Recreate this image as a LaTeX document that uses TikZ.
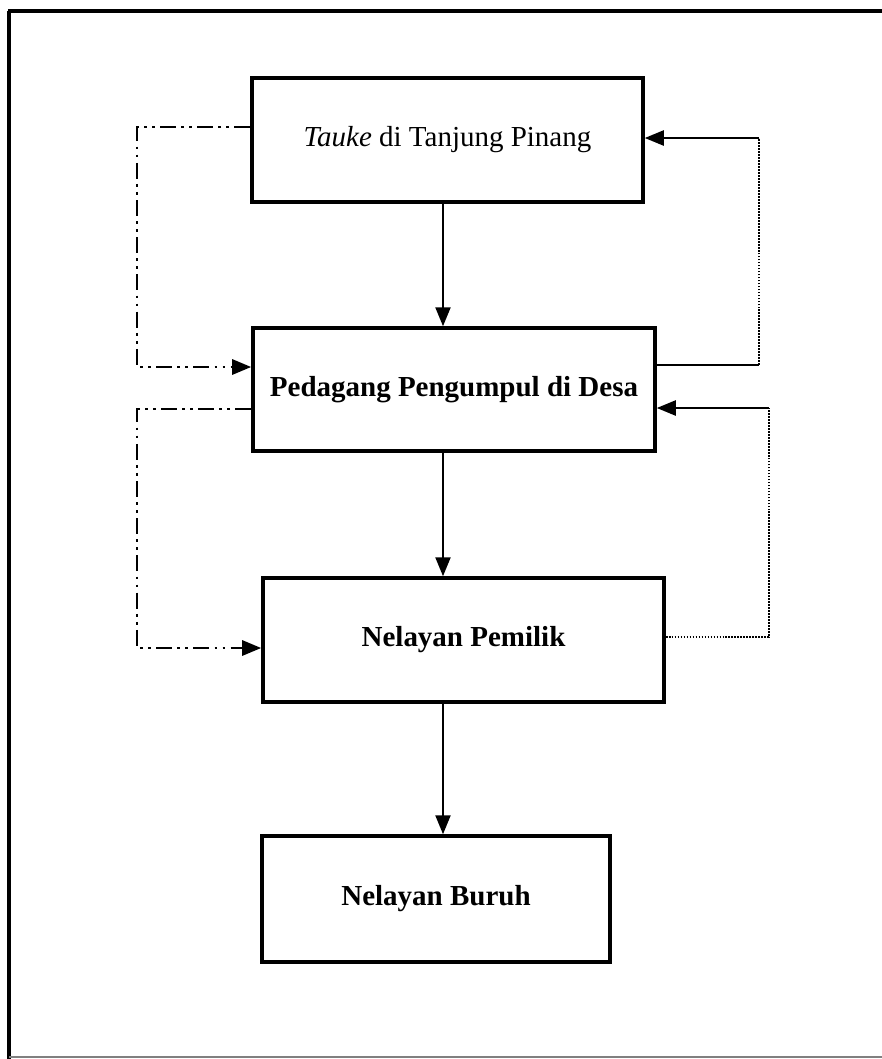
\documentclass[tikz,border=0pt]{standalone}
\usepackage{fontspec}
\setmainfont{Liberation Serif}
\usetikzlibrary{arrows.meta}
\begin{document}
\begin{tikzpicture}[x=0.02cm,y=-0.02cm,
  box/.style={draw, line width=2pt, inner sep=0pt, font=\fontsize{16.5}{19}\selectfont},
  tip/.style={-{Triangle[length=0.38cm,width=0.3cm]}},
  arr/.style={line width=1.3pt, tip},
  solidln/.style={line width=1.2pt},
  dashdotln/.style={line width=1.6pt, dash pattern=on 9pt off 3pt on 1.6pt off 3pt on 1.6pt off 3pt},
  dotln/.style={line width=1.3pt, dash pattern=on 1pt off 0.7pt}]
\useasboundingbox (0,0) rectangle (882,1059);
% frame
\draw[line width=2.4pt] (8,11) -- (882,11);
\draw[line width=2pt] (9,11) -- (9,1059);
\draw[line width=0.6pt, gray] (9,1057) -- (882,1057);
% boxes
\node[box, minimum width=391*0.02cm, minimum height=124*0.02cm] (b1) at (447.5,140) {\textit{Tauke} di Tanjung Pinang};
\node[box, minimum width=402*0.02cm, minimum height=123*0.02cm] (b2) at (454,389.5) {\textbf{Pedagang Pengumpul di Desa}};
\node[box, minimum width=401*0.02cm, minimum height=124*0.02cm] (b3) at (463.5,640) {\textbf{Nelayan Pemilik}};
\node[box, minimum width=348*0.02cm, minimum height=126*0.02cm] (b4) at (436,899) {\textbf{Nelayan Buruh}};
% helper coordinates
\coordinate (cx) at (443,0);
\coordinate (L) at (137,0);
\coordinate (R1) at (759,0);
\coordinate (R2) at (769,0);
\coordinate (ya) at (0,127);
\coordinate (yb) at (0,367);
\coordinate (yc) at (0,409);
\coordinate (yd) at (0,648);
\coordinate (ye) at (0,138);
\coordinate (yf) at (0,365);
\coordinate (yg) at (0,408);
\coordinate (yh) at (0,637);
% vertical flow arrows
\draw[arr] (b1.south -| cx) -- (b2.north -| cx);
\draw[arr] (b2.south -| cx) -- (b3.north -| cx);
\draw[arr] (b3.south -| cx) -- (b4.north -| cx);
% left dash-dot connectors
\draw[dashdotln, tip] (b1.west |- ya) -- (L |- ya) -- (L |- yb) -- (b2.west |- yb);
\draw[dashdotln, tip] (b2.west |- yc) -- (L |- yc) -- (L |- yd) -- (b3.west |- yd);
% right connectors
\draw[solidln] (b2.east |- yf) -- (R1 |- yf);
\draw[dotln] (R1 |- yf) -- (R1 |- ye);
\draw[arr] (R1 |- ye) -- (b1.east |- ye);
\draw[dotln] (b3.east |- yh) -- (R2 |- yh) -- (R2 |- yg);
\draw[arr] (R2 |- yg) -- (b2.east |- yg);
\end{tikzpicture}
\end{document}
